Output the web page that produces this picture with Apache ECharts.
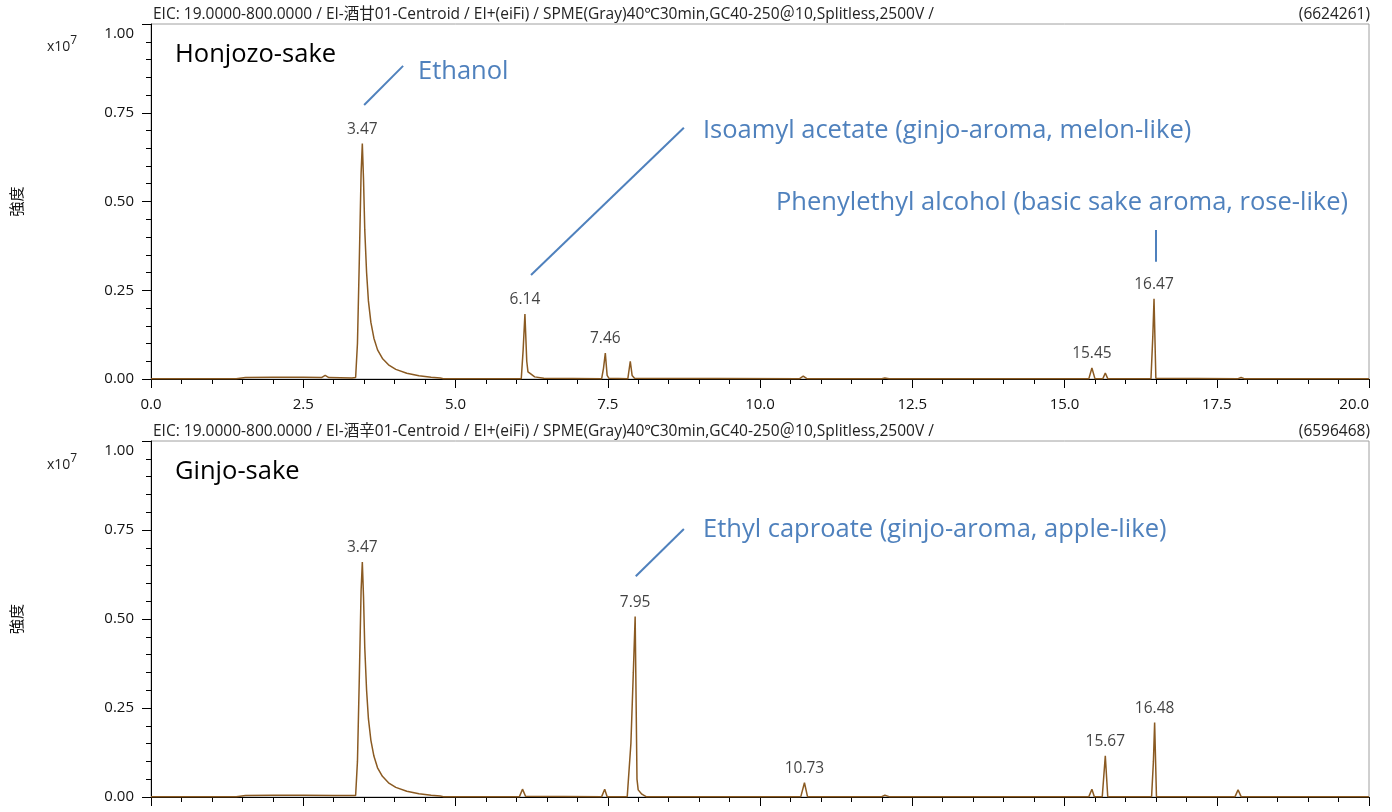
<!DOCTYPE html>
<html>
<head>
<meta charset="utf-8">
<script src="https://cdn.jsdelivr.net/npm/echarts@6/dist/echarts.min.js"></script>
<style>
html,body{margin:0;padding:0;background:#fff;}
#chart{width:1392px;height:812px;}
</style>
</head>
<body>
<div id="chart"></div>
<script>
// ---- Data (intensity in units of x10^7, time in min) ----
const timeTicks = [0, 2.5, 5, 7.5, 10, 12.5, 15, 17.5, 20];
const intensityTicks = [0, 0.25, 0.5, 0.75, 1.0];

const honjozoTime = [0.0,1.40,1.55,2.0,2.5,2.80,2.86,2.92,3.30,3.36,3.39,3.42,3.45,3.47,3.49,3.51,3.54,3.57,3.61,3.66,3.72,3.80,3.90,4.02,4.20,4.40,4.60,4.75,4.80,
  6.08,6.11,6.14,6.17,6.19,6.23,6.30,6.45,7.40,7.43,7.46,7.49,7.52,7.83,7.87,7.90,7.94,
  10.65,10.71,10.77,12.00,12.05,12.12,15.40,15.45,15.50,15.63,15.67,15.71,16.42,16.45,16.47,16.50,17.85,17.90,17.95,20.0];
const honjozoIntensity = [0.001,0.001,0.004,0.005,0.005,0.004,0.010,0.004,0.003,0.004,0.10,0.33,0.58,0.663,0.56,0.42,0.30,0.22,0.16,0.115,0.082,0.058,0.040,0.027,0.016,0.009,0.005,0.003,0.001,
  0.001,0.08,0.183,0.05,0.02,0.015,0.006,0.002,0.001,0.03,0.073,0.01,0.002,0.001,0.05,0.01,0.002,
  0.001,0.008,0.001,0.001,0.003,0.001,0.001,0.031,0.001,0.001,0.017,0.001,0.001,0.12,0.226,0.002,0.001,0.004,0.001,0.001];

const ginjoTime = [0.0,1.40,1.55,2.0,2.5,3.0,3.36,3.39,3.42,3.45,3.47,3.49,3.51,3.54,3.57,3.61,3.66,3.72,3.80,3.90,4.02,4.20,4.40,4.60,4.75,4.80,
  6.05,6.10,6.15,7.40,7.45,7.49,7.82,7.88,7.92,7.95,7.98,8.00,8.06,8.13,
  10.67,10.73,10.78,12.00,12.05,12.12,15.40,15.45,15.49,15.62,15.67,15.71,16.43,16.46,16.48,16.51,17.80,17.85,17.90,20.0];
const ginjoIntensity = [0.001,0.001,0.004,0.005,0.005,0.004,0.004,0.10,0.33,0.58,0.66,0.56,0.42,0.30,0.22,0.16,0.115,0.082,0.058,0.040,0.027,0.016,0.009,0.005,0.003,0.001,
  0.001,0.022,0.002,0.001,0.022,0.001,0.001,0.15,0.35,0.507,0.05,0.02,0.008,0.001,
  0.001,0.04,0.001,0.001,0.005,0.001,0.001,0.022,0.001,0.001,0.116,0.001,0.001,0.10,0.209,0.001,0.001,0.02,0.001,0.001];

const honjozoPeakTimes = [3.47, 6.14, 7.46, 15.45, 16.47];
const honjozoPeakHeights = [0.663, 0.183, 0.073, 0.031, 0.226];
const ginjoPeakTimes = [3.47, 7.95, 10.73, 15.67, 16.48];
const ginjoPeakHeights = [0.66, 0.507, 0.04, 0.116, 0.209];

const headerTop = 'EIC: 19.0000-800.0000 / EI-酒甘01-Centroid / EI+(eiFi) / SPME(Gray)40℃30min,GC40-250＠10,Splitless,2500V /';
const headerBottom = 'EIC: 19.0000-800.0000 / EI-酒辛01-Centroid / EI+(eiFi) / SPME(Gray)40℃30min,GC40-250＠10,Splitless,2500V /';
const totalTop = '(6624261)';
const totalBottom = '(6596468)';

// leader lines [t1, y1, t2, y2] in data space
const honjozoLeaders = [[3.50, 0.772, 4.14, 0.882], [6.24, 0.293, 8.75, 0.708], [16.50, 0.330, 16.50, 0.420]];
const ginjoLeaders = [[7.96, 0.620, 8.75, 0.753]];

// ---- Chart ----
const FONT = '"Open Sans", "Noto Sans", "Noto Sans CJK JP", sans-serif';
const LINE = '#8a5a22';
const BLUE = '#4f81bd';
const zip = (a, b) => a.map((v, i) => [v, b[i]]);

function xAxisCfg(gi, showLabel) {
  return {
    type: 'value', gridIndex: gi, min: 0, max: 20, interval: 2.5,
    axisLine: {show: true, onZero: false, lineStyle: {color: '#000', width: 1}},
    axisTick: {show: true, length: 9, lineStyle: {color: '#000'}},
    minorTick: {show: true, splitNumber: 5, length: 5, lineStyle: {color: '#000'}},
    splitLine: {show: false},
    axisLabel: {show: showLabel, fontSize: 15, color: '#111', fontFamily: FONT, margin: 18,
      alignMaxLabel: 'right', formatter: v => v.toFixed(1)}
  };
}
function yAxisCfg(gi) {
  return {
    type: 'value', gridIndex: gi, min: 0, max: 1, interval: 0.25,
    name: '強度', nameLocation: 'middle', nameGap: 126,
    nameTextStyle: {fontSize: 15, color: '#111', fontFamily: FONT},
    axisLine: {show: true, lineStyle: {color: '#000', width: 1}},
    axisTick: {show: true, length: 9, lineStyle: {color: '#000'}},
    minorTick: {show: true, splitNumber: 5, length: 5, lineStyle: {color: '#000'}},
    splitLine: {show: false},
    axisLabel: {fontSize: 15, color: '#111', fontFamily: FONT, margin: 17,
      formatter: v => v === 1 ? '{top|' + v.toFixed(2) + '}' : v.toFixed(2),
      rich: {top: {fontSize: 15, color: '#111', fontFamily: FONT, padding: [20, 0, 0, 0]}}}
  };
}
function leaderLines(list) {
  return {
    silent: true, symbol: ['none', 'none'], animation: false,
    lineStyle: {color: BLUE, width: 2, type: 'solid'},
    label: {show: false},
    data: list.map(l => [{coord: [l[0], l[1]]}, {coord: [l[2], l[3]]}])
  };
}
function peakLabels(gi, times, heights) {
  return {
    type: 'scatter', xAxisIndex: gi, yAxisIndex: gi, silent: true,
    data: zip(times, heights), symbolSize: 1,
    itemStyle: {color: 'rgba(0,0,0,0)'},
    label: {show: true, position: 'top', distance: 6, fontSize: 15.5, color: '#111', fontFamily: FONT,
      formatter: p => p.value[0].toFixed(2)},
    z: 5
  };
}
function header(y, text, total) {
  return [
    {type: 'text', x: 153, y: y, style: {text: text, fontSize: 15.5, fill: '#222', fontFamily: FONT, verticalAlign: 'middle', align: 'left'}},
    {type: 'text', x: 1370, y: y, style: {text: total, fontSize: 15.5, fill: '#222', fontFamily: FONT, verticalAlign: 'middle', align: 'right'}}
  ];
}
function bigText(x, y, text, color) {
  return {type: 'text', x: x, y: y, style: {text: text, fontSize: 25.5, fill: color, fontFamily: FONT, verticalAlign: 'middle', align: 'left'}};
}
function expo(y) {
  return {type: 'text', x: 47, y: y, style: {
    text: '{a|x10}{b|7}', verticalAlign: 'middle', align: 'left',
    rich: {a: {fontSize: 14, fill: '#222', fontFamily: FONT, padding: [7, 0, 0, 0]},
      b: {fontSize: 12, fill: '#222', fontFamily: FONT, padding: [0, 0, 7, 0]}}}};
}

const option = {
  animation: false,
  backgroundColor: '#fff',
  grid: [
    {left: 151, right: 23, top: 24, height: 355, show: true, borderColor: '#a0a0a0', borderWidth: 1, backgroundColor: 'transparent'},
    {left: 151, right: 23, top: 441, height: 356, show: true, borderColor: '#a0a0a0', borderWidth: 1, backgroundColor: 'transparent'}
  ],
  xAxis: [xAxisCfg(0, true), xAxisCfg(1, false)],
  yAxis: [yAxisCfg(0), yAxisCfg(1)],
  series: [
    {type: 'line', xAxisIndex: 0, yAxisIndex: 0, data: zip(honjozoTime, honjozoIntensity), showSymbol: false,
      lineStyle: {color: LINE, width: 1.5}, itemStyle: {color: LINE}, markLine: leaderLines(honjozoLeaders)},
    {type: 'line', xAxisIndex: 1, yAxisIndex: 1, data: zip(ginjoTime, ginjoIntensity), showSymbol: false,
      lineStyle: {color: LINE, width: 1.5}, itemStyle: {color: LINE}, markLine: leaderLines(ginjoLeaders)},
    peakLabels(0, honjozoPeakTimes, honjozoPeakHeights),
    peakLabels(1, ginjoPeakTimes, ginjoPeakHeights)
  ],
  graphic: [
    ...header(15, headerTop, totalTop),
    ...header(432, headerBottom, totalBottom),
    expo(44), expo(462),
    bigText(175, 55, 'Honjozo-sake', '#000'),
    bigText(175, 472, 'Ginjo-sake', '#000'),
    bigText(418, 72, 'Ethanol', BLUE),
    bigText(703, 131, 'Isoamyl acetate (ginjo-aroma, melon-like)', BLUE),
    bigText(776, 203, 'Phenylethyl alcohol (basic sake aroma, rose-like)', BLUE),
    bigText(703, 530, 'Ethyl caproate (ginjo-aroma, apple-like)', BLUE)
  ]
};
const chart = echarts.init(document.getElementById('chart'), null, {renderer: 'canvas'});
chart.setOption(option);
</script>
</body>
</html>
